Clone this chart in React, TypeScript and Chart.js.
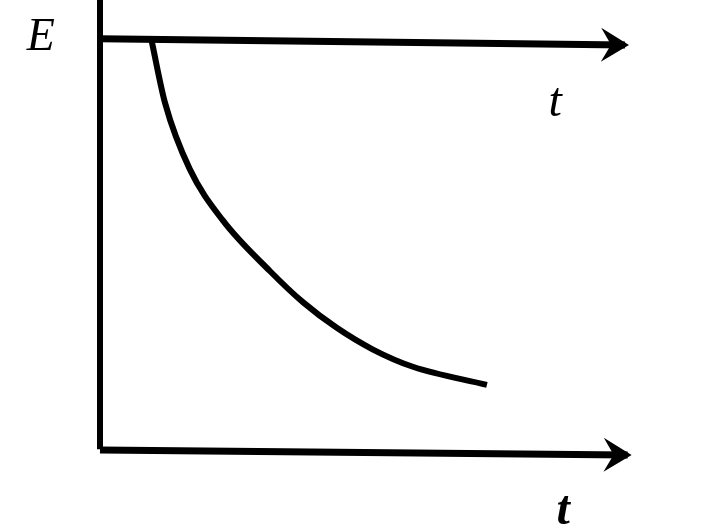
import React, { useEffect, useRef } from "react";
import Chart from "chart.js/auto";

// decaying curve E(t)
const curveT = [0.98, 1.24, 1.71, 2.34, 3.24, 3.87, 4.51, 5.2, 5.96, 7.37];
const curveE = [10.0, 8.46, 6.85, 5.6, 4.36, 3.6, 2.98, 2.45, 2.03, 1.59];

// constant E line (upper t axis)
const topT = [0, 10];
const topE = [10.03, 9.88];

// axes
const vAxisT = [0, 0];
const vAxisE = [0.02, 11.2];
const hAxisT = [0, 10.05];
const hAxisE = [0.0, -0.12];

const labels = [
  { text: "E", t: -1.13, e: 10.05, font: "italic 46px 'Liberation Serif'" },
  { text: "t", t: 8.67, e: 8.45, font: "italic 48px 'Liberation Serif'" },
  { text: "t", t: 8.82, e: -1.5, font: "italic bold 48px 'Liberation Serif'" },
];

const pts = (xs: number[], ys: number[]) => xs.map((x, i) => ({ x, y: ys[i] }));

const arrowPlugin = {
  id: "arrows",
  afterDatasetsDraw(chart: any) {
    const { ctx, scales } = chart;
    chart.data.datasets.forEach((ds: any) => {
      if (!ds.arrow) return;
      const n = ds.data.length;
      const a = ds.data[n - 2];
      const b = ds.data[n - 1];
      const x1 = scales.x.getPixelForValue(a.x);
      const y1 = scales.y.getPixelForValue(a.y);
      const x2 = scales.x.getPixelForValue(b.x);
      const y2 = scales.y.getPixelForValue(b.y);
      ctx.save();
      ctx.fillStyle = "#000";
      ctx.translate(x2, y2);
      ctx.rotate(Math.atan2(y2 - y1, x2 - x1));
      ctx.beginPath();
      ctx.moveTo(4, 0);
      ctx.lineTo(-24, -17);
      ctx.lineTo(-14, 0);
      ctx.lineTo(-24, 17);
      ctx.closePath();
      ctx.fill();
      ctx.restore();
    });
    ctx.save();
    ctx.fillStyle = "#000";
    ctx.textAlign = "center";
    ctx.textBaseline = "middle";
    labels.forEach((l) => {
      ctx.font = l.font;
      ctx.fillText(l.text, scales.x.getPixelForValue(l.t), scales.y.getPixelForValue(l.e));
    });
    ctx.restore();
  },
};

const App = () => {
  const canvasRef = useRef<HTMLCanvasElement | null>(null);

  useEffect(() => {
    const ctx = canvasRef.current?.getContext("2d");
    if (!ctx) return;

    const line = (data: any, width: number, arrow = false) => ({
      data,
      borderColor: "#000",
      borderWidth: width,
      pointRadius: 0,
      fill: false,
      tension: 0,
      arrow,
    });

    const chart = new Chart(ctx, {
      type: "line",
      data: {
        datasets: [
          { ...line(pts(curveT, curveE), 6), cubicInterpolationMode: "monotone" },
          line(pts(topT, topE), 7, true),
          line(pts(vAxisT, vAxisE), 6),
          line(pts(hAxisT, hAxisE), 7, true),
        ] as any,
      },
      options: {
        animation: false,
        responsive: true,
        maintainAspectRatio: false,
        layout: { padding: { left: 100, right: 89, top: 40, bottom: 79 } },
        plugins: { legend: { display: false }, tooltip: { enabled: false } },
        elements: { line: { borderCapStyle: "butt", borderJoinStyle: "round" } },
        datasets: { line: { clip: false } as any },
        scales: {
          x: { type: "linear", min: 0, max: 10, display: false },
          y: { type: "linear", min: 0, max: 10, display: false },
        },
      },
      plugins: [arrowPlugin],
    });

    return () => {
      chart.destroy();
    };
  }, []);

  return (
    <div style={{ position: "fixed", left: 0, top: 0, width: 714, height: 529, background: "#fff" }}>
      <canvas ref={canvasRef}></canvas>
    </div>
  );
};

export default App;
